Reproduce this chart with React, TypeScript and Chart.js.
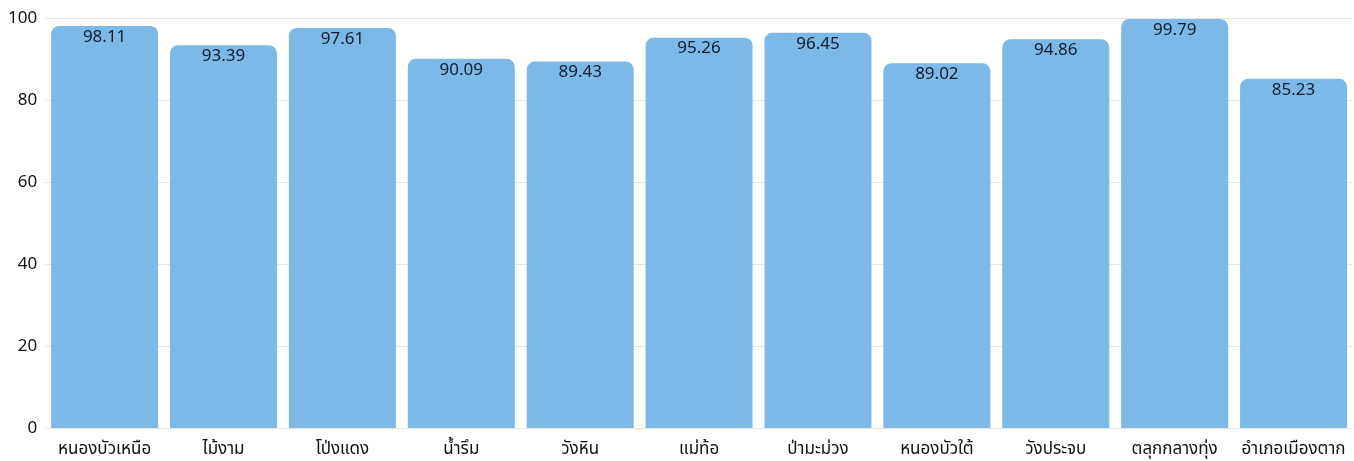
import React, { useEffect, useRef } from "react";
import { Chart, registerables } from "chart.js";

Chart.register(...registerables);

const categories = [
  "หนองบัวเหนือ",
  "ไม้งาม",
  "โป่งแดง",
  "น้ำรึม",
  "วังหิน",
  "แม่ท้อ",
  "ป่ามะม่วง",
  "หนองบัวใต้",
  "วังประจบ",
  "ตลุกกลางทุ่ง",
  "อำเภอเมืองตาก",
];

const values = [98.11, 93.39, 97.61, 90.09, 89.43, 95.26, 96.45, 89.02, 94.86, 99.79, 85.23];

const yTicks = [0, 20, 40, 60, 80, 100];

const FONT = "'Noto Sans', 'Noto Sans Thai', sans-serif";

const valueLabels = {
  id: "valueLabels",
  afterDatasetsDraw(chart: any) {
    const ctx = chart.ctx;
    const meta = chart.getDatasetMeta(0);
    ctx.save();
    ctx.font = `17px ${FONT}`;
    ctx.fillStyle = "#111c2a";
    ctx.textAlign = "center";
    ctx.textBaseline = "middle";
    meta.data.forEach((bar: any, i: number) => {
      ctx.fillText(values[i].toFixed(2), bar.x, bar.y + 11);
    });
    ctx.restore();
  },
};

export default function App() {
  const ref = useRef<HTMLCanvasElement | null>(null);

  useEffect(() => {
    if (!ref.current) return;
    const chart = new Chart(ref.current, {
      type: "bar",
      data: {
        labels: categories,
        datasets: [
          {
            data: values,
            backgroundColor: "#7db9e7",
            borderRadius: 8,
            barPercentage: 0.9,
            categoryPercentage: 1,
          },
        ],
      },
      options: {
        animation: false,
        responsive: false,
        maintainAspectRatio: false,
        layout: { padding: { left: 0, right: 1, top: 9, bottom: 0 } },
        plugins: {
          legend: { display: false },
          tooltip: { enabled: false },
        },
        scales: {
          x: {
            grid: { display: false },
            border: { display: false },
            ticks: {
              color: "#111111",
              font: { family: FONT, size: 17 },
              maxRotation: 0,
              autoSkip: false,
              padding: 2,
            },
          },
          y: {
            min: 0,
            max: 100,
            afterBuildTicks: (axis: any) => {
              axis.ticks = yTicks.map((v) => ({ value: v }));
            },
            grid: { color: "#e6e6e6", drawTicks: false },
            border: { display: false },
            ticks: {
              color: "#111111",
              font: { family: FONT, size: 17 },
              padding: 8,
            },
          },
        },
      },
      plugins: [valueLabels],
    });
    return () => chart.destroy();
  }, []);

  return (
    <div style={{ position: "absolute", left: 0, top: 0, width: 1354, height: 461 }}>
      <canvas ref={ref} width={1354} height={461} style={{ display: "block" }} />
    </div>
  );
}
